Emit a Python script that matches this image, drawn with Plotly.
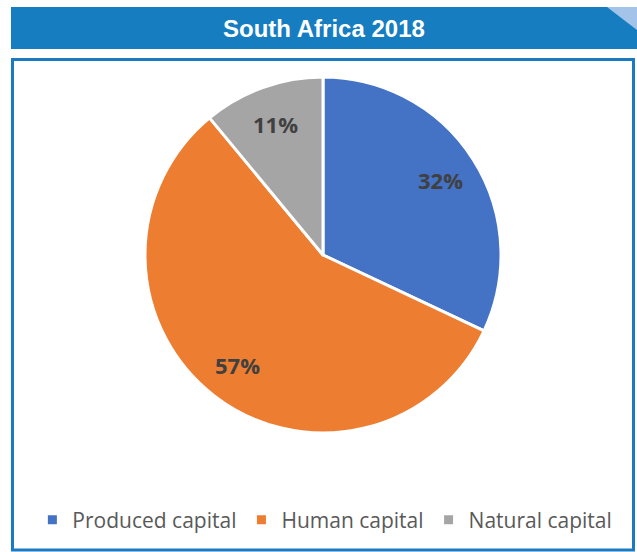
import math
import plotly.graph_objects as go

title = "South Africa 2018"
categories = ["Produced capital", "Human capital", "Natural capital"]
shares = [32, 57, 11]
colors = ["#4472C4", "#ED7D31", "#A5A5A5"]

W, H = 637, 552
CX, CY, R = 323, 255, 178  # pie centre / radius in pixels (layout only)
LABEL_R = 0.785            # label distance as a fraction of radius

def px_x(x):
    return x / W

def px_y(y):
    return 1 - y / H

fig = go.Figure()
fig.add_trace(go.Pie(
    labels=categories,
    values=shares,
    sort=False,
    direction="clockwise",
    rotation=0,
    marker=dict(colors=colors, line=dict(color="white", width=3)),
    textinfo="none",
    hoverinfo="label+percent",
    domain=dict(x=[px_x(CX - R), px_x(CX + R)], y=[px_y(CY + R), px_y(CY - R)]),
    showlegend=True,
))

# data labels placed along each slice's mid-angle (Excel-style best fit)
annotations = []
total = sum(shares)
cum = 0
for v in shares:
    mid = (cum + v / 2) / total * 2 * math.pi
    cum += v
    lx = CX + LABEL_R * R * math.sin(mid)
    ly = CY - LABEL_R * R * math.cos(mid)
    annotations.append(dict(text=f"<b>{round(v / total * 100)}%</b>", xref="paper", yref="paper",
                            x=px_x(lx), y=px_y(ly), xanchor="center", yanchor="middle", showarrow=False,
                            font=dict(family="Open Sans, sans-serif", size=22, color="#404040")))

annotations.append(dict(text=f"<b>{title}</b>", xref="paper", yref="paper", x=px_x(324), y=px_y(28),
                        xanchor="center", yanchor="middle", showarrow=False,
                        font=dict(family="Liberation Sans Narrow, Arial Narrow, Liberation Sans, sans-serif",
                                  size=24, color="white")))

shapes = [
    # header bar
    dict(type="rect", xref="paper", yref="paper", x0=px_x(11), x1=1, y0=px_y(49), y1=px_y(7),
         fillcolor="#157DC0", line=dict(width=0), layer="below"),
    # folded corner
    dict(type="path", xref="paper", yref="paper",
         path=f"M {px_x(607)} {px_y(7)} L {px_x(637)} {px_y(7)} L {px_x(637)} {px_y(30)} Z",
         fillcolor="#A3C4E8", line=dict(width=0)),
    # chart frame
    dict(type="rect", xref="paper", yref="paper", x0=px_x(12.5), x1=px_x(633.5), y0=px_y(550), y1=px_y(59.5),
         fillcolor="rgba(0,0,0,0)", line=dict(color="#1A7BC2", width=3), layer="below"),
]

fig.update_layout(
    width=W, height=H,
    margin=dict(l=0, r=0, t=0, b=0),
    paper_bgcolor="white",
    plot_bgcolor="white",
    shapes=shapes,
    annotations=annotations,
    legend=dict(orientation="h", x=0.51, xanchor="center", y=px_y(520), yanchor="middle",
                font=dict(family="Open Sans, sans-serif", size=21, color="#595959"),
                itemwidth=30, tracegroupgap=0),
)

fig.write_html("out.html")
